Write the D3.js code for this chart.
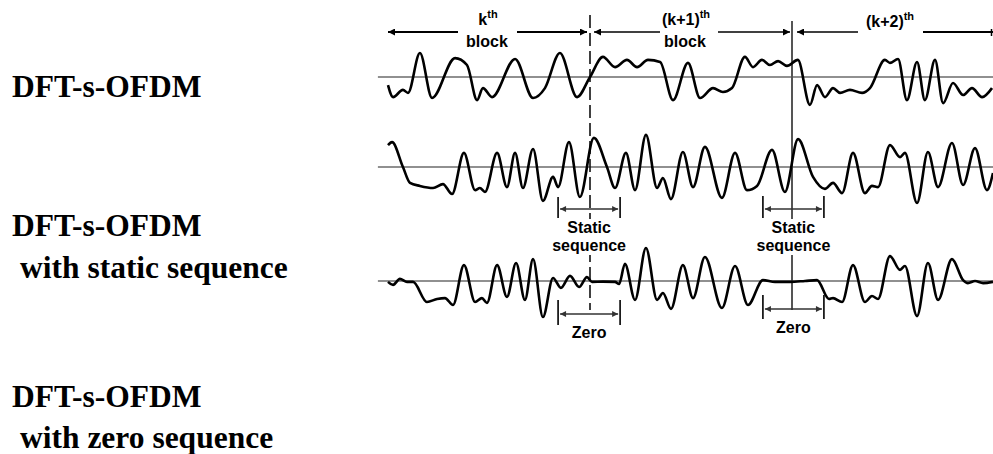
<!DOCTYPE html>
<html>
<head>
<meta charset="utf-8">
<script src="https://cdn.jsdelivr.net/npm/d3@7"></script>
<style>
  html, body { margin: 0; padding: 0; background: #fff; }
  svg { display: block; }
</style>
</head>
<body>
<svg id="chart" width="993" height="454"></svg>
<script>
// ---------- DATA (time in samples, one block = 100 samples; amplitude normalised) ----------
const blockBounds = [0, 100, 200, 300];
const blockNames = ["k", "(k+1)", "(k+2)"];

// plain DFT-s-OFDM
const dftT = [0,2.5,7.4,9.9,15.8,21.8,33.2,39.1,44.1,47.0,51.5,62.9,71.8,77.7,85.1,93.6,100,106.4,112.4,118.3,123.3,128.7,134.7,141.1,148.5,154.5,160.9,165.8,170.3,176.7,180.7,185.1,189.1,193.1,197.5,202.9,208.9,212.4,216.3,220.3,223.8,228.7,234.7,238.6,246.0,248.5,252.5,256.9,261.9,265.8,270.8,274.8,279.7,284.7,289.1,294.1,299.0];
const dftV = [-0.27,-0.67,-0.43,-0.53,0.80,-0.70,0.63,0.40,-0.77,-0.37,-0.67,0.60,-0.70,-0.37,0.80,-0.67,0,0.67,0.33,0.57,0.33,0.57,0.50,-0.77,0.47,-0.70,-0.37,-0.50,-0.37,0.67,0.33,0.57,0.40,0.53,0.37,0.57,-0.93,-0.27,-0.67,-0.37,-0.53,-0.43,-0.53,-0.37,0.57,0.47,0.60,-0.77,0.50,-0.77,0.57,-0.87,-0.20,-0.60,-0.37,-0.67,-0.37];

// DFT-s-OFDM with static sequence
const staticT = [0,2.0,7.4,10.9,15.8,22.3,27.2,31.7,37.6,43.1,45.5,48.0,54.0,58.9,62.9,66.8,71.8,76.7,81.7,84.2,89.6,95.0,101.9,108.4,112.4,117.8,122.3,127.7,133.2,136.1,140.1,146.0,151.0,156.9,165.3,171.8,177.7,182.7,190.1,196.5,203.0,210.4,216.3,220.3,224.8,230.2,236.1,239.6,242.6,248.5,253.5,255.9,261.9,267.3,272.3,279.2,284.7,290.6,296.5,299.5];
const staticV = [0.73,0.83,0,-0.53,-0.63,-0.70,-0.57,-0.90,0.47,-0.77,-0.70,-0.83,0.47,-0.67,0.47,-0.70,0.60,-1.13,-0.33,-0.67,0.83,-1.00,0.97,0,-0.70,0.47,-0.77,1.07,-0.70,-0.37,-1.07,0.50,-0.67,0.67,-1.03,0.47,-0.77,-0.63,0.57,-0.83,0.93,-0.33,-0.73,-0.53,-0.87,0.47,-0.87,-0.63,-0.67,0.73,0.33,0.47,-1.20,0.50,-0.67,0.80,-0.60,0.63,-0.77,-0.20];

// DFT-s-OFDM with zero sequence
const zeroT = [0,2.5,5.9,9.4,12.4,19.3,24.3,28.2,32.2,37.6,43.1,46.5,49.0,54.0,58.9,63.4,67.8,71.8,76.7,81.7,85.6,90.1,94.6,98.5,101.0,106.4,112.4,114.4,117.3,122.3,127.7,133.2,136.1,140.1,146.0,151.0,156.9,165.3,171.8,178.2,185.6,191.6,199.0,206.4,212.4,218.3,220.3,224.8,230.2,236.1,239.6,242.6,248.5,253.5,255.9,261.9,267.3,272.3,279.2,284.7,287.1,290.6,294.6,299.5];
const zeroV = [-0.03,-0.13,0.07,-0.03,-0.03,-0.70,-0.60,-0.57,-0.80,0.53,-0.70,-0.57,-0.73,0.53,-0.53,0.60,-0.63,0.73,-1.20,0.10,-0.23,0.17,-0.20,0.13,-0.03,-0.02,-0.03,-0.10,0.57,-0.63,1.10,-0.63,-0.40,-0.93,0.53,-0.57,0.80,-0.90,0.50,-0.80,0.03,-0.03,-0.03,0,0.03,-0.60,-0.57,-0.70,0.53,-0.70,-0.50,-0.60,0.83,0.37,0.50,-1.17,0.60,-0.63,0.73,0.03,-0.07,0,-0.07,-0.03];

// inserted-sequence spans (samples) around each block boundary
const seqSpans = [[84.2, 114.9], [185.6, 215.8]];
const rowLabels = [["DFT-s-OFDM"], ["DFT-s-OFDM", "with static sequence"], ["DFT-s-OFDM", "with zero sequence"]];

// ---------- LAYOUT ----------
const svg = d3.select("#chart");
const x = d3.scaleLinear().domain([0, 300]).range([388, 994]);
const amp = d3.scaleLinear().domain([-1, 1]).range([30, -30]);
const baselines = [77, 167, 281];
const serif = "'Liberation Serif','Times New Roman',serif";
const sans = "'Liberation Sans',Arial,sans-serif";

// arrow marker
const defs = svg.append("defs");
defs.append("marker").attr("id", "ah").attr("viewBox", "0 0 10 10")
  .attr("refX", 10).attr("refY", 5).attr("markerWidth", 9).attr("markerHeight", 7)
  .attr("markerUnits", "userSpaceOnUse").attr("orient", "auto")
  .append("path").attr("d", "M0,0 L10,5 L0,10 Z").attr("fill", "#000");
defs.append("marker").attr("id", "ahs").attr("viewBox", "0 0 10 10")
  .attr("refX", 10).attr("refY", 5).attr("markerWidth", 7).attr("markerHeight", 6)
  .attr("markerUnits", "userSpaceOnUse").attr("orient", "auto-start-reverse")
  .append("path").attr("d", "M0,0 L10,5 L0,10 Z").attr("fill", "#333");

// left labels
const labelY = [[97], [236, 278], [407, 448]];
const labelX = [12, 20];
rowLabels.forEach((lines, i) => {
  lines.forEach((s, j) => {
    svg.append("text").attr("x", labelX[j]).attr("y", labelY[i][j])
      .attr("font-family", serif).attr("font-weight", "bold").attr("font-size", 31.5)
      .attr("fill", "#000").text(s);
  });
});

// zero axes
baselines.forEach(b => {
  svg.append("line").attr("x1", x(-5)).attr("x2", 993).attr("y1", b).attr("y2", b)
    .attr("stroke", "#222").attr("stroke-width", 1.2);
});

// block boundaries
svg.append("line").attr("x1", x(blockBounds[1])).attr("x2", x(blockBounds[1]))
  .attr("y1", 15).attr("y2", 310).attr("stroke", "#111").attr("stroke-width", 1.6)
  .attr("stroke-dasharray", "13,5");
svg.append("line").attr("x1", x(blockBounds[2])).attr("x2", x(blockBounds[2]))
  .attr("y1", 21).attr("y2", 310).attr("stroke", "#555").attr("stroke-width", 2);

// top block annotations
const topY = 32;
function arrow(x1, x2, y, w) {
  svg.append("line").attr("x1", x1).attr("x2", x2).attr("y1", y).attr("y2", y)
    .attr("stroke", "#000").attr("stroke-width", w).attr("marker-end", "url(#ah)");
}
arrow(458, x(0), topY, 2);
arrow(517, x(100) - 3, topY, 2);
arrow(660, x(100) + 4, topY, 1.5);
arrow(718, x(200) - 2, topY, 1.5);
arrow(858, x(200) + 5, topY, 1.5);
svg.append("line").attr("x1", 923).attr("x2", 993).attr("y1", topY).attr("y2", topY)
  .attr("stroke", "#000").attr("stroke-width", 2);
svg.append("line").attr("x1", 991.5).attr("x2", 991.5).attr("y1", topY - 3).attr("y2", topY + 4)
  .attr("stroke", "#000").attr("stroke-width", 1.5);

const headX = [488, 686, 890];
const headY = [25, 25, 27];
blockNames.forEach((n, i) => {
  const t = svg.append("text").attr("x", headX[i]).attr("y", headY[i]).attr("text-anchor", "middle")
    .attr("font-family", sans).attr("font-weight", "bold").attr("font-size", 16).attr("fill", "#000");
  t.append("tspan").text(n);
  t.append("tspan").attr("font-size", 11).attr("dy", -7).text("th");
  if (i < 2) {
    svg.append("text").attr("x", headX[i] - 1).attr("y", 47).attr("text-anchor", "middle")
      .attr("font-family", sans).attr("font-weight", "bold").attr("font-size", 16).attr("fill", "#000")
      .text("block");
  }
});

// sequence brackets
function bracket(span, yArrow, yTop, yBot, labels, labelYs) {
  const [a, b] = span;
  [a, b].forEach(t => svg.append("line").attr("x1", x(t)).attr("x2", x(t)).attr("y1", yTop).attr("y2", yBot)
    .attr("stroke", "#000").attr("stroke-width", 1.6));
  svg.append("line").attr("x1", x(a) + 2).attr("x2", x(b) - 2).attr("y1", yArrow).attr("y2", yArrow)
    .attr("stroke", "#333").attr("stroke-width", 1.3)
    .attr("marker-start", "url(#ahs)").attr("marker-end", "url(#ahs)");
  const cx = x((a + b) / 2);
  if (labels.length > 1) {
    svg.append("rect").attr("x", cx - 4).attr("y", yBot + 1).attr("width", 8)
      .attr("height", labelYs[labelYs.length - 1] - yBot + 3).attr("fill", "#fff");
  }
  labels.forEach((s, j) => {
    svg.append("text").attr("x", cx).attr("y", labelYs[j]).attr("text-anchor", "middle")
      .attr("font-family", sans).attr("font-weight", "bold").attr("font-size", 16).attr("fill", "#000")
      .text(s);
  });
}
bracket(seqSpans[0], 209, 197, 218, ["Static", "sequence"], [233, 251]);
bracket(seqSpans[1], 209, 196, 218, ["Static", "sequence"], [233, 251]);
bracket(seqSpans[0], 314, 300, 325, ["Zero"], [338]);
bracket(seqSpans[1], 309, 295, 319, ["Zero"], [333]);

// waveforms
const series = [[dftT, dftV], [staticT, staticV], [zeroT, zeroV]];
series.forEach(([T, V], i) => {
  const pts = T.map((t, k) => [t, V[k]]);
  const line = d3.line().x(d => x(d[0])).y(d => baselines[i] + amp(d[1]))
    .curve(d3.curveMonotoneX);
  svg.append("path").datum(pts).attr("d", line).attr("fill", "none")
    .attr("stroke", "#000").attr("stroke-width", 2.6).attr("stroke-linejoin", "round");
});
</script>
</body>
</html>
